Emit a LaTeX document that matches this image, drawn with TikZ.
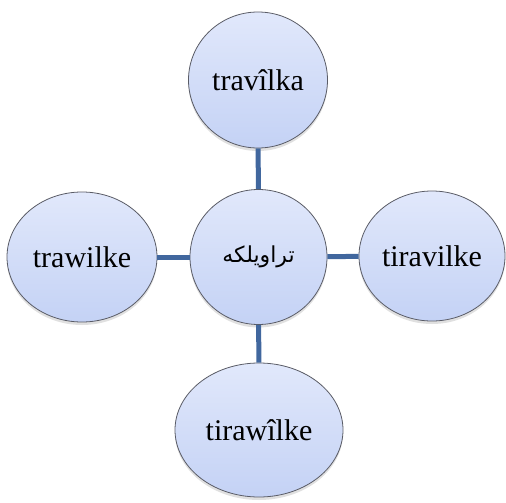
\documentclass[tikz,border=0pt]{standalone}
\usepackage{fontspec}
\newfontfamily\arabicfont[Script=Arabic]{DejaVu Sans}
\newfontfamily\labelfont{Liberation Serif}
\TeXXeTstate=1
\usetikzlibrary{shapes.geometric,shadows}
\definecolor{linkblue}{HTML}{41679E}
\definecolor{bubtop}{HTML}{E1E8FB}
\definecolor{bubbot}{HTML}{C4D2F5}
\definecolor{bubedge}{HTML}{5A5C66}
\tikzset{
  bubble/.style={ellipse, inner sep=0pt, draw=bubedge, line width=0.8pt,
    top color=bubtop, bottom color=bubbot,
    drop shadow={shadow xshift=0pt, shadow yshift=-3pt, opacity=0.2, fill=black!60},
    font=\labelfont\fontsize{30}{34}\selectfont},
  link/.style={draw=linkblue, line width=5pt}
}
\begin{document}
\begin{tikzpicture}[x=1pt,y=1pt]
\useasboundingbox (0,0) rectangle (506,-503);
\node[bubble, minimum width=137pt, minimum height=135pt] (c) at (258.5,-257) {\arabicfont\fontsize{22}{26}\selectfont\beginR تراویلکه\endR};
\node[bubble, minimum width=139pt, minimum height=136pt] (t) at (258,-80) {travîlka};
\node[bubble, minimum width=150pt, minimum height=130pt] (l) at (82,-257) {trawilke};
\node[bubble, minimum width=146pt, minimum height=130pt] (r) at (432,-256) {tiravilke};
\node[bubble, minimum width=168pt, minimum height=134pt] (b) at (259,-430) {tirawîlke};
\draw[link] (t) -- (c);
\draw[link] (l) -- (c);
\draw[link] (c) -- (r);
\draw[link] (c) -- (b);
\end{tikzpicture}
\end{document}
